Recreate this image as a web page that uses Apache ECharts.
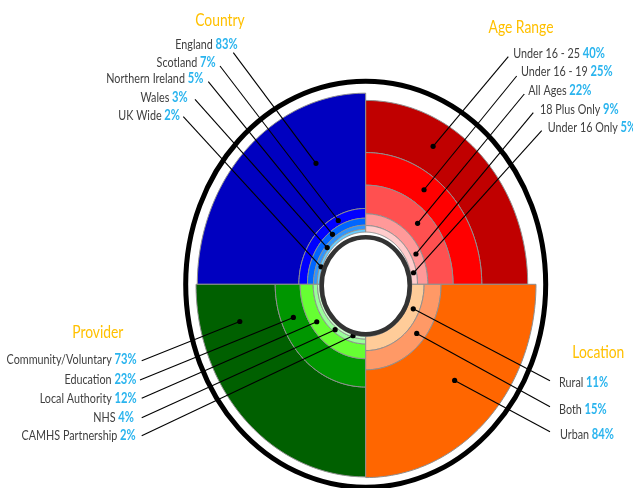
<!DOCTYPE html>
<html><head><meta charset="utf-8">
<script src="https://cdn.jsdelivr.net/npm/echarts@6/dist/echarts.min.js"></script>
<style>html,body{margin:0;padding:0;background:#fff}#c{width:633px;height:488px}</style>
</head><body><div id="c"></div>
<script>
// ---- data ----
const countryNames = ['England', 'Scotland', 'Northern Ireland', 'Wales', 'UK Wide'];
const countryValues = [83, 7, 5, 3, 2];
const ageNames = ['Under 16 - 25', 'Under 16 - 19', 'All Ages', '18 Plus Only', 'Under 16 Only'];
const ageValues = [40, 25, 22, 9, 5];
const providerNames = ['Community/Voluntary', 'Education', 'Local Authority', 'NHS', 'CAMHS Partnership'];
const providerValues = [73, 23, 12, 4, 2];
const locationNames = ['Rural', 'Both', 'Urban'];
const locationValues = [11, 15, 84];
const groupTitles = ['Country', 'Age Range', 'Provider', 'Location'];

// ---- layout / style ----
const CX = 365.7, CY = 284.3, K = 1.135, R0 = 46, SX = 0.77;
const FONT = 'Lato';
const quads = [
  { names: countryNames, values: countryValues, ang: [90, 180], R: 168.4,
    colors: ['#0000C0', '#0000FF', '#0066FF', '#2E95FF', '#66CCFF'],
    dotAng: [115, 116, 127, 140, 161], align: 'right', titlePos: [220, 20],
    labels: [[237.7, 44.3, 233.3, 52.7], [215.7, 62.3, 220, 66], [203.3, 78.7, 208.3, 81.7], [187.7, 97.7, 195, 99.3], [180, 115.7, 183.3, 116.7]] },
  { names: ageNames, values: ageValues, ang: [0, 90], R: 162,
    colors: ['#C00000', '#FF0000', '#FF5050', '#FF9999', '#FFCCCC'],
    dotAng: [61, 55, 46, 28, 12], align: 'left', titlePos: [521, 27.5],
    labels: [[513.3, 53.3, 508.3, 56.7], [521, 71.7, 516.7, 76], [528.3, 90, 524.3, 94], [540, 109.3, 533.3, 112.7], [547.7, 127.7, 541.7, 130.7]] },
  { names: providerNames, values: providerValues, ang: [180, 270], R: 169.7,
    colors: ['#006000', '#009600', '#66FF33', '#99FF99', '#CCFFCC'],
    dotAng: [194.6, 202, 214, 232.6, 254.4], align: 'right', titlePos: [97.8, 332],
    labels: [[136.7, 359.3, 141.7, 360.7], [136.5, 379.3, 140, 380], [136.7, 398.3, 141.7, 398.3], [134, 417.7, 141.7, 417.7], [135.7, 435.7, 141.7, 435.7]] },
  { names: locationNames, values: locationValues, ang: [270, 360], R: 170.3,
    colors: ['#FFCC99', '#FF9966', '#FF6600'],
    dotAng: [335.6, 319.7, 316.4], align: 'left', titlePos: [598.3, 351.7],
    labels: [[559, 382.3, 550, 380.7], [559, 409, 550, 406.7], [560, 434.3, 550, 431.7]] }
];

const grids = [], xAxes = [], yAxes = [], series = [], graphics = [];
quads.forEach((q, qi) => {
  const S = q.values.reduce((a, b) => a + b, 0);
  q.H = S * R0 / (q.R - R0);
  const M = q.H + S;
  grids.push({ left: CX - q.R, top: CY - q.R * K, width: 2 * q.R, height: 2 * q.R * K });
  xAxes.push({ type: 'value', gridIndex: qi, min: -M, max: M, show: false });
  yAxes.push({ type: 'value', gridIndex: qi, min: -M, max: M, show: false });
  // stack: smallest value innermost
  const data = q.values.map(v => [v, q.values.filter(w => w < v).reduce((a, b) => a + b, 0)]);
  series.push({
    type: 'custom', xAxisIndex: qi, yAxisIndex: qi, clip: false, silent: true,
    data: data,
    renderItem: function (params, api) {
      const i = params.dataIndex;
      const v = api.value(0), c = api.value(1);
      const rIn = q.H + c, rOut = q.H + c + v;
      const a0 = q.ang[0] * Math.PI / 180, a1 = q.ang[1] * Math.PI / 180;
      const N = 72, pts = [];
      for (let s = 0; s <= N; s++) { const a = a0 + (a1 - a0) * s / N; pts.push(api.coord([rOut * Math.cos(a), rOut * Math.sin(a)])); }
      for (let s = N; s >= 0; s--) { const a = a0 + (a1 - a0) * s / N; pts.push(api.coord([rIn * Math.cos(a), rIn * Math.sin(a)])); }
      const rm = q.H + c + v / 2, da = q.dotAng[i] * Math.PI / 180;
      const dot = api.coord([rm * Math.cos(da), rm * Math.sin(da)]);
      const L = q.labels[i];
      return { type: 'group', children: [
        { type: 'polygon', shape: { points: pts }, style: { fill: q.colors[i], stroke: '#8f8f8f', lineWidth: 1 }, z2: 1 },
        { type: 'line', shape: { x1: L[2], y1: L[3], x2: dot[0], y2: dot[1] }, style: { stroke: '#000', lineWidth: 1.1 }, z2: 20 },
        { type: 'circle', shape: { cx: dot[0], cy: dot[1], r: 2.6 }, style: { fill: '#000' }, z2: 21 },
        { type: 'text', x: L[0], y: L[1], scaleX: SX, z2: 20,
          style: { text: '{n|' + q.names[i] + ' }{p|' + v + '%}', align: q.align, verticalAlign: 'middle',
            rich: { n: { fill: '#404040', fontSize: 14, fontFamily: FONT },
                    p: { fill: '#2AB4EE', fontSize: 14.5, fontWeight: 'bold', fontFamily: FONT } } } }
      ] };
    }
  });
  graphics.push({ type: 'text', x: q.titlePos[0], y: q.titlePos[1], scaleX: SX, z: 30,
    style: { text: groupTitles[qi], fill: '#FFC000', font: '18px ' + FONT, align: 'center', verticalAlign: 'middle' } });
});
graphics.push({ type: 'ellipse', z: 1, shape: { cx: CX, cy: CY, rx: 180, ry: 203 }, style: { fill: 'none', stroke: '#000', lineWidth: 5 } });
graphics.push({ type: 'ellipse', z: 10, shape: { cx: CX, cy: CY + 1.5, rx: 44, ry: 48.5 }, style: { fill: '#fff', stroke: '#333', lineWidth: 4.5 } });

const chart = echarts.init(document.getElementById('c'), null, { renderer: 'canvas' });
chart.setOption({ animation: false, grid: grids, xAxis: xAxes, yAxis: yAxes, series: series, graphic: graphics });
</script></body></html>
